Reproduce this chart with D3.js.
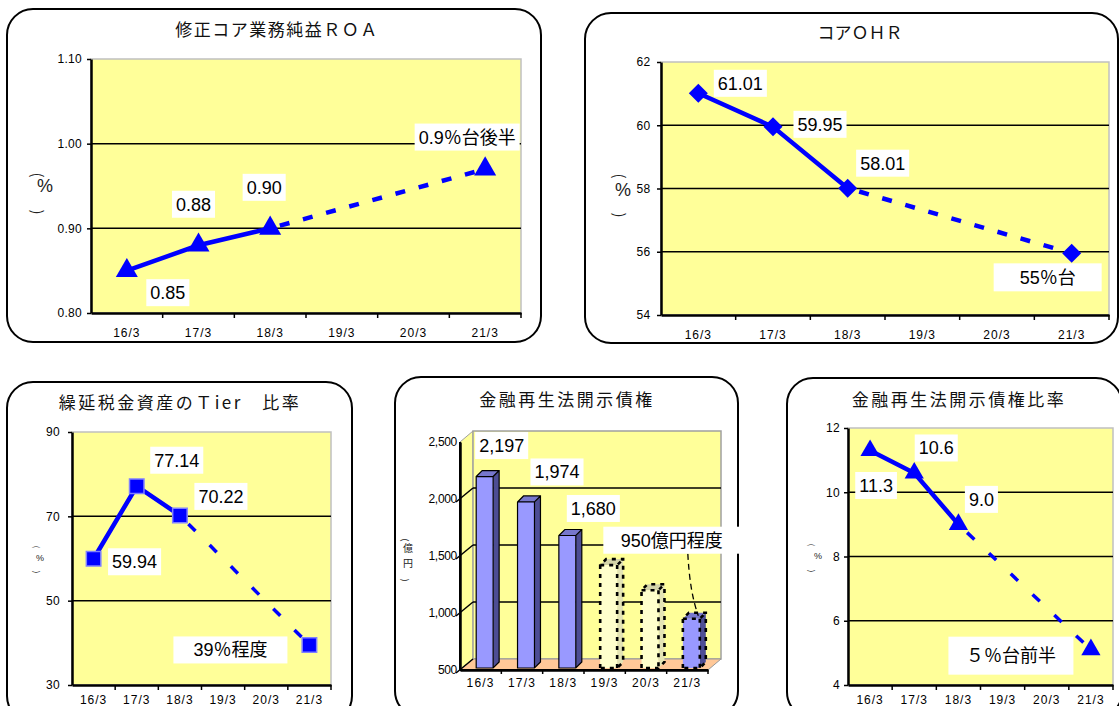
<!DOCTYPE html>
<html>
<head>
<meta charset="utf-8">
<script src="https://cdn.jsdelivr.net/npm/d3@7"></script>
<style>
  body { margin: 0; background: #fff; }
  svg { display: block; }
</style>
</head>
<body>
<svg id="chart" width="1119" height="706"></svg>
<script>
// ---- data ----
var years = ["16/3", "17/3", "18/3", "19/3", "20/3", "21/3"];
var actualYears = ["16/3", "17/3", "18/3"];

// 修正コア業務純益ROA (%)
var roaValues = [0.85, 0.88, 0.90, null, null, 0.97];
var roaLabels = ["0.85", "0.88", "0.90", null, null, "0.9％台後半"];
var roaTicks = [0.80, 0.90, 1.00, 1.10];

// コアOHR (%)
var ohrValues = [61.01, 59.95, 58.01, null, null, 55.95];
var ohrLabels = ["61.01", "59.95", "58.01", null, null, "55％台"];
var ohrTicks = [54, 56, 58, 60, 62];

// 繰延税金資産のTier比率 (%)
var dtaValues = [59.94, 77.14, 70.22, null, null, 39.5];
var dtaLabels = ["59.94", "77.14", "70.22", null, null, "39％程度"];
var dtaTicks = [30, 50, 70, 90];

// 金融再生法開示債権 (億円)
var nplValues = [2197, 1974, 1680, 1420, 1200, 950];
var nplLabels = ["2,197", "1,974", "1,680", null, null, "950億円程度"];
var nplKinds = ["actual", "actual", "actual", "plan", "plan", "target"];
var nplTicks = [500, 1000, 1500, 2000, 2500];

// 金融再生法開示債権比率 (%)
var nplRatioValues = [11.3, 10.6, 9.0, null, null, 5.1];
var nplRatioLabels = ["11.3", "10.6", "9.0", null, null, "５％台前半"];
var nplRatioTicks = [4, 6, 8, 10, 12];

// ---- look ----
var svg = d3.select('#chart');
var BLUE = '#0000ff';
var PLOT = '#ffff99';
var LABEL_FONT = '"Liberation Sans", Arial, "Noto Sans CJK JP", sans-serif';
var CJK_FONT = '"Noto Sans CJK JP", "Noto Sans CJK SC", sans-serif';

var diamond = d3.symbolDiamond2 || {
    draw: function (ctx, size) {
        var r = Math.sqrt(size / 2);
        ctx.moveTo(0, -r); ctx.lineTo(r, 0); ctx.lineTo(0, r); ctx.lineTo(-r, 0); ctx.closePath();
    }
};

function drawPanel(box, title, tx, ty, spacing) {
    svg.append('rect')
        .attr('x', box.x).attr('y', box.y)
        .attr('width', box.w).attr('height', box.h)
        .attr('rx', 26).attr('ry', 26)
        .attr('fill', '#fff').attr('stroke', '#000').attr('stroke-width', 2);
    svg.append('text')
        .attr('x', tx).attr('y', ty).attr('dy', '0.35em')
        .attr('text-anchor', 'middle')
        .style('font-family', CJK_FONT).style('font-size', '17px')
        .style('letter-spacing', spacing + 'px')
        .attr('fill', '#111')
        .text(title);
}

// vertical unit label: rotated brackets around upright text
function drawUnit(u) {
    var g = svg.append('g').style('font-family', CJK_FONT).attr('fill', '#222');
    g.append('text').attr('transform', 'translate(' + u.px + ',' + u.top + ') rotate(90)')
        .attr('text-anchor', 'middle').attr('dy', '0.35em')
        .style('font-size', u.bracket + 'px').text('(');
    g.append('text').attr('transform', 'translate(' + u.px + ',' + u.bottom + ') rotate(90)')
        .attr('text-anchor', 'middle').attr('dy', '0.35em')
        .style('font-size', u.bracket + 'px').text(')');
    u.chars.forEach(function (c, i) {
        g.append('text').attr('x', u.cx).attr('y', u.cy + i * u.size * 1.5)
            .attr('text-anchor', 'middle').attr('dy', '0.35em')
            .style('font-family', u.latin ? LABEL_FONT : CJK_FONT)
            .style('font-size', u.size + 'px').text(c);
    });
}

function addLabels(g, pts, px, py, offsets) {
    var lab = g.selectAll('g.lab')
        .data(pts.filter(function (d) { return d.label; }))
        .enter().append('g')
        .attr('class', 'lab')
        .attr('transform', function (d) {
            var off = offsets[d.i];
            return 'translate(' + (px(d) + off[0]) + ',' + (py(d) + off[1]) + ')';
        });
    lab.append('rect').attr('fill', '#fff');
    lab.append('text')
        .attr('text-anchor', 'middle').attr('dy', '0.36em')
        .style('font-family', LABEL_FONT).style('font-size', '18px')
        .attr('fill', '#000')
        .text(function (d) { return d.label; });
    lab.each(function (d) {
        var off = offsets[d.i];
        var bb = d3.select(this).select('text').node().getBBox();
        var w = off[2] || bb.width + 8;
        var h = off[3] || 27;
        d3.select(this).select('rect')
            .attr('x', -w / 2).attr('y', -h / 2)
            .attr('width', w).attr('height', h);
    });
    return lab;
}

function styleAxis(a, size, spacing) {
    a.attr('font-family', null).attr('font-size', null);
    a.selectAll('text')
        .style('font-family', LABEL_FONT).style('font-size', size + 'px')
        .style('letter-spacing', (spacing || 0) + 'px')
        .attr('fill', '#000');
    a.selectAll('.tick line').attr('stroke', '#000').attr('stroke-width', 1.5);
    a.select('.domain').attr('stroke', '#000').attr('stroke-width', 2.5);
}

function drawLineChart(o) {
    drawPanel(o.box, o.title, o.titleX, o.titleY, o.titleSpacing);
    drawUnit(o.unit);

    var x = d3.scaleBand().domain(years).range([o.left, o.right]);
    var y = d3.scaleLinear()
        .domain([o.ticks[0], o.ticks[o.ticks.length - 1]])
        .range([o.bottom, o.top]);
    var px = function (d) { return x(d.year) + x.bandwidth() / 2; };
    var py = function (d) { return y(d.value); };
    var g = svg.append('g');

    g.append('rect')
        .attr('x', o.left).attr('y', o.top)
        .attr('width', o.right - o.left).attr('height', o.bottom - o.top)
        .attr('fill', PLOT).attr('stroke', '#c0c0c0').attr('stroke-width', 1.5);

    g.selectAll('line.grid')
        .data(o.ticks.slice(1, -1))
        .enter().append('line')
        .attr('class', 'grid')
        .attr('x1', o.left).attr('x2', o.right)
        .attr('y1', function (d) { return y(d); })
        .attr('y2', function (d) { return y(d); })
        .attr('stroke', '#000').attr('stroke-width', 1.5);

    var ya = g.append('g')
        .attr('transform', 'translate(' + o.left + ',0)')
        .call(d3.axisLeft(y).tickValues(o.ticks).tickFormat(o.format)
            .tickSize(4).tickSizeOuter(0).tickPadding(o.tickPad));
    styleAxis(ya, 12, 0.3);

    var xa = g.append('g')
        .attr('transform', 'translate(0,' + o.bottom + ')')
        .call(d3.axisBottom(x).tickSize(0).tickSizeOuter(0).tickPadding(o.xPad));
    styleAxis(xa, 12, 1);

    g.selectAll('line.xtick')
        .data(years)
        .enter().append('line')
        .attr('class', 'xtick')
        .attr('x1', function (d) { return x(d) + x.bandwidth(); })
        .attr('x2', function (d) { return x(d) + x.bandwidth(); })
        .attr('y1', o.bottom).attr('y2', o.bottom + 5)
        .attr('stroke', '#000').attr('stroke-width', 1.5);

    var pts = years.map(function (yr, i) {
        return { year: yr, value: o.values[i], label: o.labels[i], i: i };
    }).filter(function (d) { return d.value != null; });
    var actual = pts.filter(function (d) { return actualYears.indexOf(d.year) >= 0; });
    var plan = [actual[actual.length - 1]].concat(
        pts.filter(function (d) { return actualYears.indexOf(d.year) < 0; }));

    var line = d3.line().x(px).y(py);
    g.append('path').datum(actual).attr('d', line)
        .attr('fill', 'none').attr('stroke', BLUE).attr('stroke-width', o.lineW);
    g.append('path').datum(plan).attr('d', line)
        .attr('fill', 'none').attr('stroke', BLUE).attr('stroke-width', o.dashW)
        .attr('stroke-dasharray', o.dash).attr('stroke-dashoffset', o.dashOffset || 0);

    g.selectAll('path.mark')
        .data(pts)
        .enter().append('path')
        .attr('class', 'mark')
        .attr('transform', function (d) { return 'translate(' + px(d) + ',' + py(d) + ')'; })
        .attr('d', d3.symbol().type(o.symbol).size(o.symbolSize))
        .attr('fill', BLUE)
        .attr('stroke', o.markStroke || 'none').attr('stroke-width', 1.5);

    addLabels(g, pts, px, py, o.labelOffsets);
}

function drawBarChart(o) {
    drawPanel(o.box, o.title, o.titleX, o.titleY, o.titleSpacing);
    drawUnit(o.unit);

    var dx = o.depthX, dy = o.depthY;
    var y = d3.scaleLinear()
        .domain([nplTicks[0], nplTicks[nplTicks.length - 1]])
        .range([o.bottom, o.top]);
    var xFront = d3.scaleBand().domain(years).range([o.left, o.right]);
    var xBar = d3.scaleBand().domain(years)
        .range([o.left + 4, o.right + 4])
        .paddingInner(0.59).paddingOuter(0.295);
    var g = svg.append('g');
    var poly = function (p) { return 'M' + p.map(function (q) { return q.join(','); }).join('L') + 'Z'; };
    var y0 = y.range()[0], y1 = y.range()[1];

    // side wall, back wall, floor
    g.append('path')
        .attr('d', poly([[o.left, y1], [o.left + dx, y1 + dy], [o.left + dx, y0 + dy], [o.left, y0]]))
        .attr('fill', PLOT).attr('stroke', '#a0a0a0');
    g.append('rect')
        .attr('x', o.left + dx).attr('y', y1 + dy)
        .attr('width', o.right - o.left).attr('height', y0 - y1)
        .attr('fill', PLOT).attr('stroke', '#a0a0a0').attr('stroke-width', 1.5);
    g.append('path')
        .attr('d', poly([[o.left, y0], [o.left + dx, y0 + dy], [o.right + dx, y0 + dy], [o.right, y0]]))
        .attr('fill', '#ffc898').attr('stroke', '#999');

    var inner = nplTicks.slice(1, -1);
    g.selectAll('line.grid')
        .data(inner)
        .enter().append('line')
        .attr('x1', o.left + dx).attr('x2', o.right + dx)
        .attr('y1', function (d) { return y(d) + dy; })
        .attr('y2', function (d) { return y(d) + dy; })
        .attr('stroke', '#000').attr('stroke-width', 1.5);
    g.selectAll('line.diag')
        .data(nplTicks.slice(0, -1))
        .enter().append('line')
        .attr('x1', o.left - 4).attr('x2', o.left + dx)
        .attr('y1', function (d) { return y(d) + 3; })
        .attr('y2', function (d) { return y(d) + dy; })
        .attr('stroke', '#000').attr('stroke-width', 1.5);

    var ya = g.append('g')
        .attr('transform', 'translate(' + o.left + ',0)')
        .call(d3.axisLeft(y).tickValues(nplTicks).tickFormat(d3.format(','))
            .tickSize(0).tickSizeOuter(0).tickPadding(3));
    styleAxis(ya, 12, -0.3);

    var xa = g.append('g')
        .attr('transform', 'translate(0,' + y0 + ')')
        .call(d3.axisBottom(xFront).tickSize(0).tickSizeOuter(0).tickPadding(8.5));
    styleAxis(xa, 12, 1.2);
    g.selectAll('line.xtick')
        .data(years)
        .enter().append('line')
        .attr('x1', function (d) { return xFront(d) + xFront.bandwidth(); })
        .attr('x2', function (d) { return xFront(d) + xFront.bandwidth(); })
        .attr('y1', y0).attr('y2', y0 + 4)
        .attr('stroke', '#000').attr('stroke-width', 1.5);

    var styles = {
        actual: { front: '#9999ff', side: '#4d4d94', top: '#7777cc', dash: null, sw: 1.2 },
        plan:   { front: '#ffffcc', side: '#e4e4b4', top: '#d4d4a8', dash: '4,5', sw: 2.6 },
        target: { front: '#9999ff', side: '#4d4d94', top: '#7777cc', dash: '4,5', sw: 2.6 }
    };
    var bars = years.map(function (yr, i) {
        return { year: yr, value: nplValues[i], label: nplLabels[i], kind: nplKinds[i], i: i };
    });
    var bw = xBar.bandwidth(), sd = 6, base = y0 - 2;

    var bar = g.selectAll('g.bar')
        .data(bars)
        .enter().append('g')
        .attr('class', 'bar');
    bar.append('path')
        .attr('d', function (d) {
            var x0 = xBar(d.year) + bw, t = y(d.value);
            return poly([[x0, t], [x0 + sd, t - sd], [x0 + sd, base - sd], [x0, base]]);
        })
        .attr('fill', function (d) { return styles[d.kind].side; });
    bar.append('path')
        .attr('d', function (d) {
            var x0 = xBar(d.year), t = y(d.value);
            return poly([[x0, t], [x0 + sd, t - sd], [x0 + bw + sd, t - sd], [x0 + bw, t]]);
        })
        .attr('fill', function (d) { return styles[d.kind].top; });
    bar.append('rect')
        .attr('x', function (d) { return xBar(d.year); })
        .attr('y', function (d) { return y(d.value); })
        .attr('width', bw)
        .attr('height', function (d) { return base - y(d.value); })
        .attr('fill', function (d) { return styles[d.kind].front; });
    // outline of the whole bar
    bar.append('path')
        .attr('d', function (d) {
            var x0 = xBar(d.year), t = y(d.value);
            return poly([[x0, base], [x0, t], [x0 + sd, t - sd], [x0 + bw + sd, t - sd],
                [x0 + bw + sd, base - sd], [x0 + bw, base]]) +
                'M' + x0 + ',' + t + 'H' + (x0 + bw) + 'L' + (x0 + bw + sd) + ',' + (t - sd) +
                'M' + (x0 + bw) + ',' + t + 'V' + base;
        })
        .attr('fill', 'none').attr('stroke', '#000')
        .attr('stroke-width', function (d) { return styles[d.kind].sw; })
        .attr('stroke-dasharray', function (d) { return styles[d.kind].dash; });

    // axes lines over walls
    g.append('line').attr('x1', o.left).attr('x2', o.left).attr('y1', y1).attr('y2', y0)
        .attr('stroke', '#000').attr('stroke-width', 2);
    g.append('line').attr('x1', o.left).attr('x2', o.right).attr('y1', y0).attr('y2', y0)
        .attr('stroke', '#000').attr('stroke-width', 2);

    var px = function (d) { return xBar(d.year) + bw / 2; };
    var py = function (d) { return y(d.value); };

    // leader from the target label to its bar
    var last = bars[bars.length - 1];
    var off = o.labelOffsets[last.i];
    var sx = px(last) + off[0] + 16, sy = py(last) + off[1] + off[3] / 2;
    var ex = px(last) + 7, ey = py(last) - 3;
    var lp = d3.path();
    lp.moveTo(sx, sy);
    lp.quadraticCurveTo(sx + 2, (sy + ey) / 2 + 8, ex, ey);
    g.append('path').attr('d', lp.toString())
        .attr('fill', 'none').attr('stroke', '#000').attr('stroke-width', 1.3)
        .attr('stroke-dasharray', '6,4');

    addLabels(g, bars, px, py, o.labelOffsets);
}

drawLineChart({
    box: { x: 7, y: 9, w: 534, h: 333 },
    title: '修正コア業務純益ＲＯＡ', titleX: 277, titleY: 30, titleSpacing: 1.5,
    unit: { px: 37, top: 175, bottom: 212, cx: 45, cy: 186, size: 18, bracket: 15, chars: ['%'], latin: true },
    left: 91, right: 521, top: 59, bottom: 313,
    ticks: roaTicks, values: roaValues, labels: roaLabels,
    format: d3.format('.2f'), tickPad: 5, xPad: 15.5,
    symbol: d3.symbolTriangle, symbolSize: 210,
    lineW: 4.5, dashW: 4.5, dash: '10,14', dashOffset: -10,
    labelOffsets: { 0: [41, 22], 1: [-5, -41], 2: [-6, -41], 5: [-18, -32] }
});

drawLineChart({
    box: { x: 585, y: 13, w: 533, h: 330 },
    title: 'コアＯＨＲ', titleX: 860, titleY: 33, titleSpacing: 0,
    unit: { px: 619, top: 176, bottom: 215, cx: 623, cy: 190, size: 18, bracket: 15, chars: ['%'], latin: true },
    left: 661, right: 1109, top: 62, bottom: 315,
    ticks: ohrTicks, values: ohrValues, labels: ohrLabels,
    format: d3.format('d'), tickPad: 6.5, xPad: 15.5,
    symbol: diamond, symbolSize: 230,
    lineW: 4.5, dashW: 4.5, dash: '10,14', dashOffset: -12,
    labelOffsets: { 0: [42, -10], 1: [47, -2.5], 2: [35, -25], 5: [-24, 24, 108, 28] }
});

drawLineChart({
    box: { x: 7, y: 382, w: 345, h: 340 },
    title: '繰延税金資産のＴier　比率', titleX: 180, titleY: 403, titleSpacing: 2.5,
    unit: { px: 37, top: 547, bottom: 572, cx: 40, cy: 558, size: 9, bracket: 8, chars: ['%'], latin: true },
    left: 72, right: 331, top: 432, bottom: 685,
    ticks: dtaTicks, values: dtaValues, labels: dtaLabels,
    format: d3.format('d'), tickPad: 8, xPad: 10.5,
    symbol: d3.symbolSquare, symbolSize: 210, markStroke: '#8080ff',
    lineW: 4.5, dashW: 3.5, dash: '10,20', dashOffset: -12,
    labelOffsets: { 0: [41, 3], 1: [40, -26], 2: [41, -19], 5: [-79, 5, 114, 27] }
});

drawBarChart({
    box: { x: 395, y: 377, w: 343, h: 340 },
    title: '金融再生法開示債権', titleX: 567, titleY: 400, titleSpacing: 2.5,
    unit: { px: 405, top: 540, bottom: 580, cx: 408, cy: 548, size: 10, bracket: 9, chars: ['億', '円'] },
    left: 460, right: 708, top: 442, bottom: 670,
    depthX: 13, depthY: -11,
    labelOffsets: { 0: [17, -31], 1: [31, -30], 2: [26, -27], 5: [-19.5, -78.5, 137, 27] }
});

drawLineChart({
    box: { x: 787, y: 378, w: 335, h: 340 },
    title: '金融再生法開示債権比率', titleX: 959, titleY: 400, titleSpacing: 2.5,
    unit: { px: 812, top: 545, bottom: 571, cx: 818, cy: 556, size: 9, bracket: 8, chars: ['%'], latin: true },
    left: 848, right: 1113, top: 428, bottom: 685,
    ticks: nplRatioTicks, values: nplRatioValues, labels: nplRatioLabels,
    format: d3.format('d'), tickPad: 4, xPad: 10.5,
    symbol: d3.symbolTriangle, symbolSize: 160,
    lineW: 4.5, dashW: 3.5, dash: '10,20', dashOffset: -12,
    labelOffsets: { 0: [6, 35], 1: [22, -25], 2: [23, -25], 5: [-80, 6, 125, 38] }
});
</script>
</body>
</html>
